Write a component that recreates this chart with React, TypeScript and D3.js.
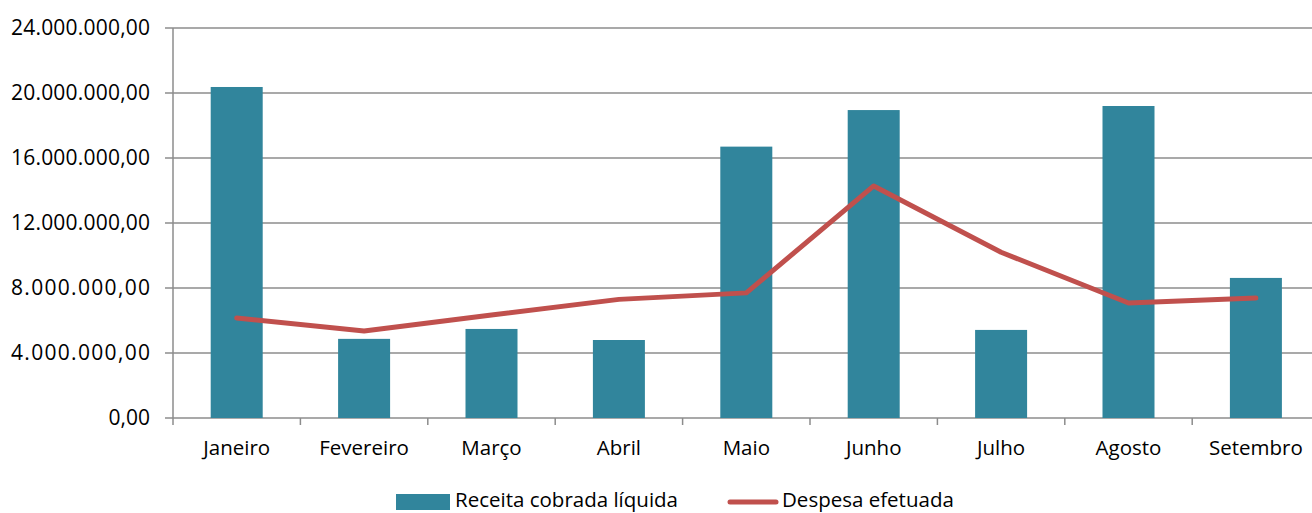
import React from "react";
import * as d3 from "d3";

const categories = ["Janeiro", "Fevereiro", "Março", "Abril", "Maio", "Junho", "Julho", "Agosto", "Setembro"];
const receita = [20370000, 4870000, 5480000, 4800000, 16700000, 18950000, 5420000, 19200000, 8620000];
const despesa = [6150000, 5350000, 6340000, 7300000, 7700000, 14280000, 10200000, 7080000, 7380000];
const yTicks = [0, 4000000, 8000000, 12000000, 16000000, 20000000, 24000000];
const seriesNames = ["Receita cobrada líquida", "Despesa efetuada"];

const fmt = (v: number) => {
  const s = d3.format(",.2f")(v);
  return s.replace(/,/g, "#").replace(".", ",").replace(/#/g, ".");
};

export default function App() {
  const W = 1312, H = 513;
  const left = 173, right = 1319.6, top = 28, bottom = 418;
  const x = d3.scaleBand<string>().domain(categories).range([left, right]).paddingInner(0).paddingOuter(0);
  const y = d3.scaleLinear().domain([0, 24000000]).range([bottom, top]);
  const bw = 52;
  const font = "'Open Sans', sans-serif";
  const line = d3.line<number>().x((_, i) => x(categories[i])! + x.bandwidth() / 2).y((d) => y(d));
  const grid = "#8c8c8c";
  return (
    <svg width={W} height={H} style={{ position: "absolute", left: 0, top: 0 }} fontFamily={font}>
      <rect width={W} height={H} fill="#fff" />
      {yTicks.map((t) => (
        <g key={t}>
          <line x1={left - 8} x2={W} y1={y(t)} y2={y(t)} stroke={grid} strokeWidth={1.5} />
          <text x={150} y={y(t)} dy="0.35em" textAnchor="end" fontSize={21} fill="#000" textLength={fmt(t).length > 4 ? 139 : undefined}>{fmt(t)}</text>
        </g>
      ))}
      <line x1={left} x2={left} y1={top} y2={bottom} stroke={grid} strokeWidth={1.5} />
      {categories.map((c, i) => (
        <line key={"t" + i} x1={x(c)!} x2={x(c)!} y1={bottom} y2={bottom + 7} stroke={grid} strokeWidth={1.5} />
      ))}
      {categories.map((c, i) => (
        <rect key={"b" + i} x={x(c)! + x.bandwidth() / 2 - bw / 2} y={y(receita[i])} width={bw} height={bottom - y(receita[i])} fill="#31859c" />
      ))}
      <path d={line(despesa)!} fill="none" stroke="#c0504d" strokeWidth={5} strokeLinejoin="round" strokeLinecap="round" />
      {categories.map((c, i) => (
        <text key={"l" + i} x={x(c)! + x.bandwidth() / 2} y={455} textAnchor="middle" fontSize={20.5} fill="#000">{c}</text>
      ))}
      <rect x={396} y={494} width={54} height={16} fill="#31859c" />
      <text x={455} y={507} fontSize={20.5} fill="#000">{seriesNames[0]}</text>
      <line x1={730} x2={776} y1={502} y2={502} stroke="#c0504d" strokeWidth={5} strokeLinecap="round" />
      <text x={782} y={507} fontSize={20.5} fill="#000">{seriesNames[1]}</text>
    </svg>
  );
}
